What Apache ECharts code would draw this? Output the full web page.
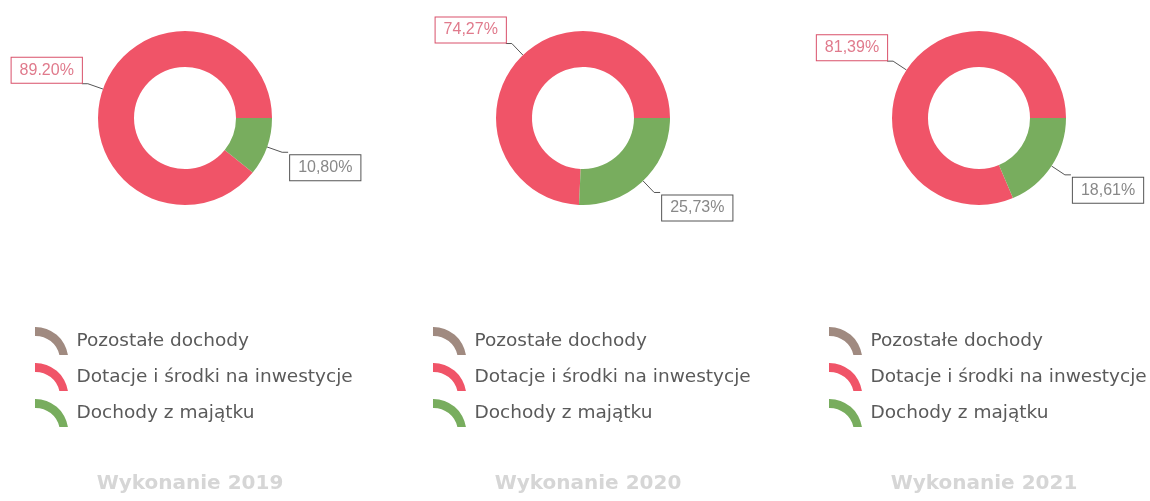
<!DOCTYPE html>
<html>
<head>
<meta charset="utf-8">
<script src="https://cdn.jsdelivr.net/npm/echarts@6/dist/echarts.min.js"></script>
<style>
  html, body { margin: 0; padding: 0; background: #fff; }
  #chart { width: 1150px; height: 501px; }
</style>
</head>
<body>
<div id="chart"></div>
<script>
const categories = ['Pozostałe dochody', 'Dotacje i środki na inwestycje', 'Dochody z majątku'];
const years = ['Wykonanie 2019', 'Wykonanie 2020', 'Wykonanie 2021'];
const values2019 = [0, 89.20, 10.80];
const values2020 = [0, 74.27, 25.73];
const values2021 = [0, 81.39, 18.61];
// the 2019 red label is printed with a dot, the others with a comma
const dotLabels = ['Wykonanie 2019|1'];

const colors = ['#a08a80', '#f05468', '#78ad5e'];
const centersX = [185, 583, 979];
const arcIcon = 'path://M0,0 A100,100 0 0 1 100,85 L74,85 A74,74 0 0 0 0,27 Z';

const chart = echarts.init(document.getElementById('chart'));

const buildSeries = (name, values, cx) => ({
  name: name,
  type: 'pie',
  center: [cx, 118],
  radius: [51, 87],
  startAngle: 0,
  clockwise: false,
  avoidLabelOverlap: false,
  label: {
    fontFamily: 'Liberation Sans',
    fontSize: 16,
    padding: [5, 8, 4, 8],
    borderWidth: 1,
    backgroundColor: '#fff',
    formatter: function (p) {
      const sep = dotLabels.indexOf(name + '|' + p.dataIndex) >= 0 ? '.' : ',';
      return p.value.toFixed(2).replace('.', sep) + '%';
    }
  },
  labelLine: {
    length: 16,
    length2: 6,
    lineStyle: { color: '#555', width: 1 }
  },
  // box edge rests on the end of its leader line
  labelLayout: function (p) {
    const half = p.labelRect.height / 2;
    return p.dataIndex === 1 ? { dy: -half, dx: 5 } : { dy: half + 2, dx: -3 };
  },
  emphasis: { scale: false },
  data: values.map((v, i) => ({
    name: categories[i],
    value: v,
    label: v === 0 ? { show: false } : (i === 1
      ? { color: '#e07a8c', borderColor: '#d9506a' }
      : { color: '#888', borderColor: '#555' }),
    labelLine: { show: v !== 0 }
  }))
});

const option = {
  color: colors,
  title: years.map((y, i) => ({
    text: y,
    left: centersX[i],
    top: 469,
    textAlign: 'center',
    textStyle: { color: '#d6d6d6', fontSize: 20, fontWeight: 'bold', fontFamily: 'DejaVu Sans' }
  })),
  legend: centersX.map(cx => ({
    orient: 'vertical',
    left: cx - 155,
    top: 322,
    itemWidth: 34,
    itemHeight: 28,
    itemGap: 8,
    selectedMode: false,
    textStyle: { color: '#5a5a5a', fontSize: 18.5, fontFamily: 'DejaVu Sans', padding: [0, 0, 0, 3] },
    data: categories.map(c => ({ name: c, icon: arcIcon }))
  })),
  series: [
    buildSeries(years[0], values2019, centersX[0]),
    buildSeries(years[1], values2020, centersX[1]),
    buildSeries(years[2], values2021, centersX[2])
  ]
};
chart.setOption(option);
</script>
</body>
</html>
